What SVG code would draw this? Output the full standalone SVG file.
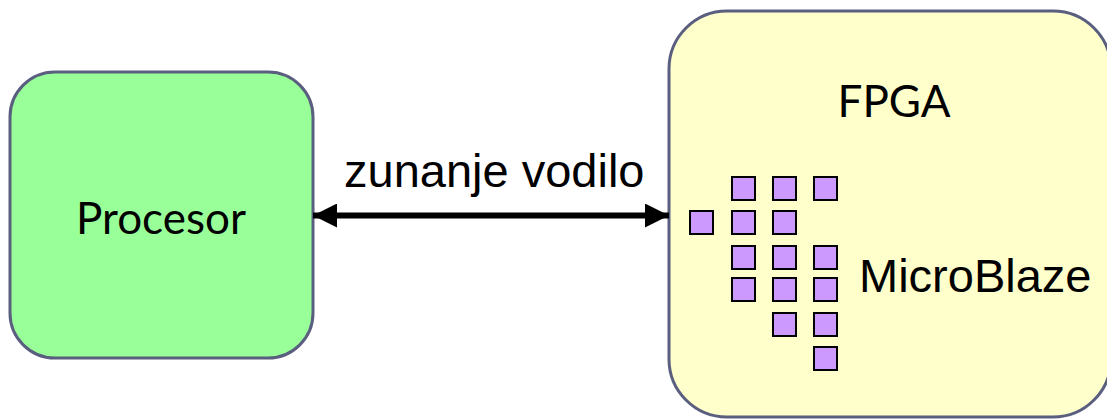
<svg xmlns="http://www.w3.org/2000/svg" width="1107" height="420" viewBox="0 0 1107 420">
  <style>
    .box { stroke: #5b5f7f; stroke-width: 3; }
    .gill { font-family: Lato, "Open Sans", sans-serif; font-size: 44px; fill: #000; }
    .arial { font-family: "Liberation Sans", Arial, sans-serif; font-size: 47px; fill: #000; }
    .cell { fill: #cc99ff; stroke: #000; stroke-width: 2; }
    .bus { stroke: #000; stroke-width: 6; fill: none; }
  </style>
  <defs>
    <marker id="head" viewBox="0 0 24 24" refX="24" refY="12" markerWidth="24" markerHeight="24" markerUnits="userSpaceOnUse" orient="auto-start-reverse">
      <path d="M0,0 L24,12 L0,24 Z" fill="#000"/>
    </marker>
  </defs>
  <rect width="1107" height="420" fill="#fff"/>

  <g id="procesor">
    <rect class="box" x="10" y="72" width="303" height="286" rx="45" fill="#99ff99"/>
    <text class="gill" x="161" y="234" text-anchor="middle">Procesor</text>
  </g>

  <g id="fpga">
    <rect class="box" x="669" y="11" width="442" height="406" rx="58" fill="#ffffcc"/>
    <text class="gill" x="894" y="117" text-anchor="middle">FPGA</text>
    <g id="microblaze">
      <!-- row 0 -->
      <rect class="cell" x="732" y="177" width="23" height="23"/>
      <rect class="cell" x="773" y="177" width="23" height="23"/>
      <rect class="cell" x="814" y="177" width="23" height="23"/>
      <!-- row 1 -->
      <rect class="cell" x="690" y="211" width="23" height="23"/>
      <rect class="cell" x="732" y="211" width="23" height="23"/>
      <rect class="cell" x="773" y="211" width="23" height="23"/>
      <!-- row 2 -->
      <rect class="cell" x="732" y="246" width="23" height="23"/>
      <rect class="cell" x="773" y="246" width="23" height="23"/>
      <rect class="cell" x="814" y="246" width="23" height="23"/>
      <!-- row 3 -->
      <rect class="cell" x="732" y="278" width="23" height="23"/>
      <rect class="cell" x="773" y="278" width="23" height="23"/>
      <rect class="cell" x="814" y="278" width="23" height="23"/>
      <!-- row 4 -->
      <rect class="cell" x="773" y="313" width="23" height="23"/>
      <rect class="cell" x="814" y="313" width="23" height="23"/>
      <!-- row 5 -->
      <rect class="cell" x="814" y="347" width="23" height="23"/>
      <text class="arial" x="859" y="292">MicroBlaze</text>
    </g>
  </g>

  <g id="connectors">
    <line class="bus" x1="313" y1="215.5" x2="669" y2="215.5" marker-start="url(#head)" marker-end="url(#head)"/>
    <text class="arial" x="344" y="187">zunanje vodilo</text>
  </g>
</svg>
